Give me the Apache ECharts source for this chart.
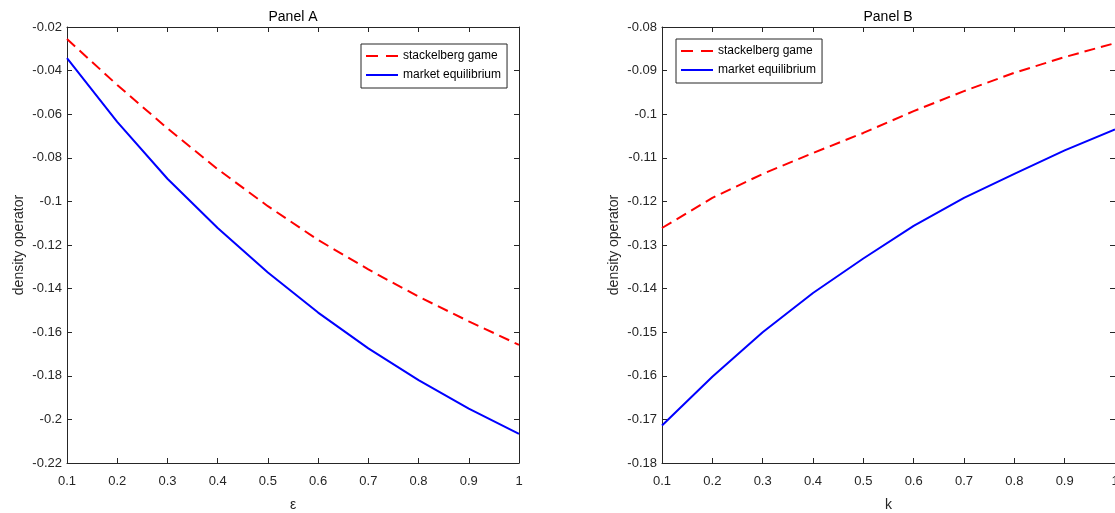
<!DOCTYPE html>
<html lang="en">
<head>
	<meta charset="UTF-8">
	<title>Panel A / Panel B</title>
	<script src="https://cdn.jsdelivr.net/npm/echarts@6/dist/echarts.min.js"></script>
	<style>
		html, body {
			margin: 0;
			padding: 0;
			background: #fff;
		}
		.box {
			width: 1115px;
			height: 513px;
		}
	</style>
</head>
<body>
	<div class="box" id="main"></div>

	<script>
		// x values shared by both panels
		let xs = [0.1, 0.2, 0.3, 0.4, 0.5, 0.6, 0.7, 0.8, 0.9, 1.0];

		// Panel A (epsilon)
		let stackA = [-0.0255, -0.0466, -0.0665, -0.0852, -0.1022, -0.1177, -0.1312, -0.1437, -0.1550, -0.1658];
		let marketA = [-0.0343, -0.0635, -0.0896, -0.1122, -0.1326, -0.1510, -0.1674, -0.1820, -0.1951, -0.2066];

		// Panel B (k)
		let stackB = [-0.1261, -0.1192, -0.1137, -0.1089, -0.1043, -0.0993, -0.0947, -0.0905, -0.0869, -0.0837];
		let marketB = [-0.1714, -0.1602, -0.1500, -0.1410, -0.1331, -0.1256, -0.1192, -0.1137, -0.1083, -0.1035];

		let names = ['stackelberg game', 'market equilibrium'];
		let titles = ['Panel A', 'Panel B'];
		let xNames = ['ε', 'k'];

		let font = "'Liberation Sans', Arial, sans-serif";
		let ink = '#262626';

		let pair = arr => arr.map((v, i) => [xs[i], v]);

		let chart = echarts.init(document.getElementById('main'));

		function xAxisFor(grid, top) {
			return {
				type: 'value',
				gridIndex: grid,
				position: top ? 'top' : 'bottom',
				min: 0.1,
				max: 1,
				interval: 0.1,
				name: top ? '' : xNames[grid],
				nameLocation: 'middle',
				nameGap: 35,
				nameTextStyle: { color: ink, fontSize: 14, fontFamily: font },
				axisLine: { show: true, onZero: false, lineStyle: { color: ink, width: 1 } },
				axisTick: { show: true, inside: true, length: 5, lineStyle: { color: ink } },
				axisLabel: { show: !top, color: ink, fontSize: 13, fontFamily: font, margin: 12 },
				splitLine: { show: false }
			};
		}

		function yAxisFor(grid, right, min, max, step) {
			return {
				type: 'value',
				gridIndex: grid,
				position: right ? 'right' : 'left',
				min: min,
				max: max,
				interval: step,
				name: right ? '' : 'density operator',
				nameLocation: 'middle',
				nameGap: 41,
				nameTextStyle: { color: ink, fontSize: 14, fontFamily: font },
				axisLine: { show: true, onZero: false, lineStyle: { color: ink, width: 1 } },
				axisTick: { show: true, inside: true, length: 5, lineStyle: { color: ink } },
				axisLabel: { show: !right, color: ink, fontSize: 13, fontFamily: font, margin: 5 },
				splitLine: { show: false }
			};
		}

		function lineSeries(name, data, grid, dashed) {
			return {
				name: name,
				type: 'line',
				xAxisIndex: grid * 2,
				yAxisIndex: grid * 2,
				data: pair(data),
				symbol: 'none',
				smooth: false,
				color: dashed ? '#ff0000' : '#0000ff',
				lineStyle: {
					width: 2,
					color: dashed ? '#ff0000' : '#0000ff',
					type: dashed ? [11, 6] : 'solid'
				}
			};
		}

		function legendAt(left, top) {
			return {
				orient: 'vertical',
				left: left,
				top: top,
				data: [
					{ name: names[0], lineStyle: { type: [12, 8], width: 2 } },
					{ name: names[1], lineStyle: { width: 2 } }
				],
				backgroundColor: '#fff',
				borderColor: ink,
				borderWidth: 1,
				borderRadius: 0,
				padding: [6, 6, 7, 4],
				itemGap: 7,
				itemWidth: 32,
				itemHeight: 13,
				itemStyle: { opacity: 0 },
				textStyle: { color: '#000', fontSize: 12, fontFamily: font }
			};
		}

		let options = {
			animation: false,
			backgroundColor: '#fff',
			title: [
				{ text: titles[0], left: 293, top: 10, textAlign: 'center', padding: 0,
					textStyle: { fontSize: 14, fontWeight: 'normal', color: '#000', fontFamily: font } },
				{ text: titles[1], left: 888, top: 10, textAlign: 'center', padding: 0,
					textStyle: { fontSize: 14, fontWeight: 'normal', color: '#000', fontFamily: font } }
			],
			legend: [legendAt(361, 44), legendAt(676, 39)],
			grid: [
				{ left: 67, top: 27, width: 452, height: 436, outerBoundsMode: 'none', containLabel: false },
				{ left: 662, top: 27, width: 453, height: 436, outerBoundsMode: 'none', containLabel: false }
			],
			xAxis: [xAxisFor(0, false), xAxisFor(0, true), xAxisFor(1, false), xAxisFor(1, true)],
			yAxis: [
				yAxisFor(0, false, -0.22, -0.02, 0.02),
				yAxisFor(0, true, -0.22, -0.02, 0.02),
				yAxisFor(1, false, -0.18, -0.08, 0.01),
				yAxisFor(1, true, -0.18, -0.08, 0.01)
			],
			series: [
				lineSeries(names[0], stackA, 0, true),
				lineSeries(names[1], marketA, 0, false),
				lineSeries(names[0], stackB, 1, true),
				lineSeries(names[1], marketB, 1, false)
			]
		};
		chart.setOption(options);
	</script>
</body>
</html>
